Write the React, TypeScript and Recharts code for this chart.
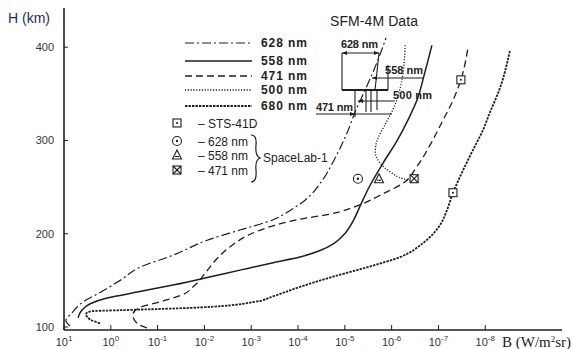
import { ComposedChart, Line, Scatter, XAxis, YAxis } from 'recharts'

// x = -log10(B): the axis runs from 10^1 on the left down to 10^-8 on the right
const xTicks = [-1, 0, 1, 2, 3, 4, 5, 6, 7, 8]
const xTickExp = ['1', '0', '-1', '-2', '-3', '-4', '-5', '-6', '-7', '-8']
const yTicks = [100, 200, 300, 400]

const curve628 = [
  { dec: -0.87, h: 101 }, { dec: -0.96, h: 107 }, { dec: -0.83, h: 115 }, { dec: -0.62, h: 126 },
  { dec: -0.23, h: 137 }, { dec: 0.2, h: 150 }, { dec: 0.62, h: 164 }, { dec: 1.33, h: 177 },
  { dec: 2.06, h: 193 }, { dec: 2.76, h: 204 }, { dec: 3.47, h: 215 }, { dec: 3.83, h: 225 },
  { dec: 4.15, h: 236 }, { dec: 4.53, h: 258 }, { dec: 4.79, h: 281 }, { dec: 5.03, h: 306 },
  { dec: 5.24, h: 333 }, { dec: 5.45, h: 356 }, { dec: 5.69, h: 384 }, { dec: 5.88, h: 410 },
]

const curve558 = [
  { dec: -0.7, h: 110 }, { dec: -0.62, h: 118 }, { dec: -0.44, h: 125 }, { dec: -0.08, h: 131 },
  { dec: 0.62, h: 138 }, { dec: 1.33, h: 145 }, { dec: 2.06, h: 153 }, { dec: 2.76, h: 161 },
  { dec: 3.47, h: 169 }, { dec: 4.04, h: 175 }, { dec: 4.47, h: 182 }, { dec: 4.78, h: 190 },
  { dec: 5.0, h: 200 }, { dec: 5.17, h: 213 }, { dec: 5.32, h: 229 }, { dec: 5.54, h: 252 },
  { dec: 5.82, h: 276 }, { dec: 6.12, h: 300 }, { dec: 6.35, h: 322 }, { dec: 6.54, h: 343 },
  { dec: 6.71, h: 373 }, { dec: 6.86, h: 402 },
]

const curve471 = [
  { dec: 0.77, h: 99 }, { dec: 0.56, h: 104 }, { dec: 0.47, h: 113 }, { dec: 0.62, h: 121 },
  { dec: 1.05, h: 127 }, { dec: 1.5, h: 134 }, { dec: 1.8, h: 145 }, { dec: 2.05, h: 160 },
  { dec: 2.3, h: 175 }, { dec: 2.6, h: 188 }, { dec: 3.0, h: 200 }, { dec: 3.5, h: 209 },
  { dec: 3.98, h: 215 }, { dec: 4.68, h: 221 }, { dec: 5.32, h: 231 }, { dec: 5.82, h: 243 },
  { dec: 6.24, h: 254 }, { dec: 6.54, h: 272 }, { dec: 6.82, h: 295 }, { dec: 7.1, h: 322 },
  { dec: 7.31, h: 343 }, { dec: 7.48, h: 365 }, { dec: 7.63, h: 399 },
]

const curve500 = [
  { dec: 6.41, h: 257 }, { dec: 6.24, h: 259 }, { dec: 6.01, h: 265 }, { dec: 5.75, h: 276 },
  { dec: 5.65, h: 288 }, { dec: 5.69, h: 300 }, { dec: 5.86, h: 317 }, { dec: 6.07, h: 338 },
  { dec: 6.22, h: 365 }, { dec: 6.29, h: 402 },
]

const curve680 = [
  { dec: -0.23, h: 104 }, { dec: -0.44, h: 108 }, { dec: -0.53, h: 114 }, { dec: -0.4, h: 117 },
  { dec: 0.2, h: 118 }, { dec: 0.84, h: 119 }, { dec: 1.91, h: 121 }, { dec: 3.08, h: 127 },
  { dec: 3.47, h: 133 }, { dec: 4.04, h: 143 }, { dec: 4.75, h: 154 }, { dec: 5.47, h: 164 },
  { dec: 6.18, h: 175 }, { dec: 6.67, h: 190 }, { dec: 7.03, h: 209 }, { dec: 7.18, h: 225 },
  { dec: 7.31, h: 244 }, { dec: 7.46, h: 261 }, { dec: 7.72, h: 288 }, { dec: 7.95, h: 311 },
  { dec: 8.1, h: 330 }, { dec: 8.32, h: 357 }, { dec: 8.53, h: 397 },
]

const sts41d = [{ dec: 7.48, h: 365 }, { dec: 7.31, h: 244 }]
const spacelab628 = [{ dec: 5.28, h: 259 }]
const spacelab558 = [{ dec: 5.73, h: 259 }]
const spacelab471 = [{ dec: 6.48, h: 259 }]

const INK = '#1e1e1e'
const DASH_628 = '9 3 2 3'
const DASH_471 = '7 4'
const DASH_500 = '1.2 1.6'
const DASH_680 = '2.4 1.1'

function SquareDot({ cx, cy }: any) {
  return (
    <g stroke={INK} fill="#fff" strokeWidth={1.1}>
      <rect x={cx - 4} y={cy - 4} width={8} height={8} />
      <circle cx={cx} cy={cy} r={1} fill={INK} stroke="none" />
    </g>
  )
}

function CircleDot({ cx, cy }: any) {
  return (
    <g stroke={INK} fill="#fff" strokeWidth={1.1}>
      <circle cx={cx} cy={cy} r={4.5} />
      <circle cx={cx} cy={cy} r={1.2} fill={INK} stroke="none" />
    </g>
  )
}

function Tri({ cx, cy }: any) {
  return (
    <g stroke={INK} fill="#fff" strokeWidth={1.1}>
      <polygon points={`${cx},${cy - 5} ${cx + 4.5},${cy + 4} ${cx - 4.5},${cy + 4}`} />
      <line x1={cx - 2} y1={cy + 1.5} x2={cx + 2} y2={cy + 1.5} />
    </g>
  )
}

function SquareX({ cx, cy }: any) {
  return (
    <g stroke={INK} fill="#fff" strokeWidth={1.1}>
      <rect x={cx - 4} y={cy - 4} width={8} height={8} />
      <line x1={cx - 4} y1={cy - 4} x2={cx + 4} y2={cy + 4} />
      <line x1={cx + 4} y1={cy - 4} x2={cx - 4} y2={cy + 4} />
    </g>
  )
}

function XTick({ x, payload }: any) {
  const i = xTicks.indexOf(payload.value)
  return (
    <g>
      <line x1={x} y1={330} x2={x} y2={325} stroke={INK} />
      <text x={x} y={346} textAnchor="middle" fontSize={11} fill="#333" fontFamily="Liberation Sans, Arial">
        10<tspan dy={-5} fontSize={8}>{xTickExp[i]}</tspan>
      </text>
    </g>
  )
}

function YTick({ y, payload }: any) {
  return (
    <g>
      <line x1={64} y1={y} x2={68} y2={y} stroke={INK} />
      <text x={54} y={y + 4} textAnchor="end" fontSize={11} fill="#333" fontFamily="Liberation Sans, Arial">
        {payload.value}
      </text>
    </g>
  )
}

function Arrow({ x, y, dir }: { x: number; y: number; dir: number }) {
  return <polygon points={`${x},${y} ${x - 5 * dir},${y - 2} ${x - 5 * dir},${y + 2}`} fill={INK} />
}

function Overlay() {
  const legend = [
    { y: 43, dash: DASH_628, label: '628 nm', w: 1.2 },
    { y: 61, dash: undefined, label: '558 nm', w: 1.5 },
    { y: 76, dash: DASH_471, label: '471 nm', w: 1.3 },
    { y: 90, dash: DASH_500, label: '500 nm', w: 1.3 },
    { y: 106, dash: DASH_680, label: '680 nm', w: 1.8 },
  ]
  const font = 'Liberation Sans, Arial, sans-serif'
  return (
    <svg width={573} height={349} style={{ position: 'absolute', left: 0, top: 0, pointerEvents: 'none' }}>
      <text x={8} y={23} fontSize={14} fill="#1d2b5e" fontFamily={font}>H (km)</text>
      <text x={330} y={26} fontSize={14} fill="#222" fontFamily={font} textLength={88}>SFM-4M Data</text>
      <text x={502} y={347} fontSize={15} fill="#222" fontFamily="Liberation Serif, serif">
        B (W/m<tspan dy={-5} fontSize={9}>2</tspan><tspan dy={5}>sr)</tspan>
      </text>

      {legend.map((l) => (
        <g key={l.label}>
          <line x1={185} y1={l.y} x2={252} y2={l.y} stroke={INK} strokeWidth={l.w} strokeDasharray={l.dash} />
          <text x={261} y={l.y + 4} fontSize={12} fontWeight="bold" fill="#222" fontFamily={font} textLength={46}>
            {l.label}
          </text>
        </g>
      ))}

      <SquareDot cx={177} cy={123} />
      <CircleDot cx={177} cy={141} />
      <Tri cx={177} cy={155} />
      <SquareX cx={177} cy={170} />
      <g fontSize={12} fill="#222" fontFamily={font}>
        <text x={198} y={128}>– STS-41D</text>
        <text x={198} y={146}>– 628 nm</text>
        <text x={198} y={160}>– 558 nm</text>
        <text x={198} y={175}>– 471 nm</text>
        <text x={263} y={162}>SpaceLab-1</text>
      </g>
      <path d="M251,135 Q257,135 256,145 Q255,156 260,158 Q255,160 256,170 Q257,182 251,182" fill="none" stroke={INK} strokeWidth={1.2} />

      {/* SFM-4M sketch */}
      <g stroke={INK} strokeWidth={1.1} fill="none">
        <line x1={342} y1={53} x2={342} y2={90} />
        <line x1={379} y1={53} x2={375} y2={90} />
        <line x1={342} y1={90} x2={388} y2={90} strokeWidth={1.8} />
        <line x1={342} y1={53} x2={379} y2={53} />
        <line x1={355} y1={90} x2={355} y2={117} />
        <line x1={366} y1={90} x2={366} y2={112} />
        <line x1={371} y1={90} x2={371} y2={112} />
        <line x1={377} y1={90} x2={377} y2={110} />
        <line x1={388} y1={65} x2={388} y2={90} />
        <line x1={372} y1={78} x2={424} y2={78} />
        <line x1={358} y1={101} x2={395} y2={101} />
        <line x1={316} y1={114} x2={392} y2={114} />
      </g>
      <Arrow x={342} y={53} dir={-1} />
      <Arrow x={379} y={53} dir={1} />
      <Arrow x={372} y={78} dir={-1} />
      <Arrow x={358} y={101} dir={-1} />
      <Arrow x={355} y={114} dir={1} />
      <g fontSize={11} fontWeight="bold" fill="#222" fontFamily={font}>
        <text x={341} y={48} textLength={37}>628 nm</text>
        <text x={385} y={74} textLength={38}>558 nm</text>
        <text x={393} y={99} textLength={39}>500 nm</text>
        <text x={316} y={111} textLength={37}>471 nm</text>
      </g>
    </svg>
  )
}

export default function App() {
  return (
    <div style={{ position: 'absolute', left: 0, top: 0, width: 573, height: 349, background: '#fff' }}>
      <ComposedChart width={573} height={349} margin={{ top: 8, right: 11, left: 4, bottom: 0 }}>
        <XAxis
          type="number"
          dataKey="dec"
          domain={[-1, 9.64]}
          ticks={xTicks}
          allowDataOverflow
          height={19}
          tickLine={false}
          axisLine={{ stroke: INK, strokeWidth: 1.6 }}
          tick={<XTick />}
          interval={0}
        />
        <YAxis
          type="number"
          dataKey="h"
          domain={[96.8, 442]}
          ticks={yTicks}
          allowDataOverflow
          width={60}
          tickLine={false}
          axisLine={{ stroke: INK, strokeWidth: 1.6 }}
          tick={<YTick />}
          interval={0}
        />
        <Line data={curve628} dataKey="h" type="monotoneY" stroke={INK} strokeWidth={1.2} strokeDasharray={DASH_628} dot={false} isAnimationActive={false} />
        <Line data={curve558} dataKey="h" type="monotoneY" stroke={INK} strokeWidth={1.5} dot={false} isAnimationActive={false} />
        <Line data={curve471} dataKey="h" type="monotoneY" stroke={INK} strokeWidth={1.3} strokeDasharray={DASH_471} dot={false} isAnimationActive={false} />
        <Line data={curve500} dataKey="h" type="monotoneY" stroke={INK} strokeWidth={1.3} strokeDasharray={DASH_500} dot={false} isAnimationActive={false} />
        <Line data={curve680} dataKey="h" type="monotoneY" stroke={INK} strokeWidth={1.8} strokeDasharray={DASH_680} dot={false} isAnimationActive={false} />
        <Scatter data={sts41d} dataKey="h" shape={<SquareDot />} isAnimationActive={false} />
        <Scatter data={spacelab628} dataKey="h" shape={<CircleDot />} isAnimationActive={false} />
        <Scatter data={spacelab558} dataKey="h" shape={<Tri />} isAnimationActive={false} />
        <Scatter data={spacelab471} dataKey="h" shape={<SquareX />} isAnimationActive={false} />
      </ComposedChart>
      <Overlay />
    </div>
  )
}
